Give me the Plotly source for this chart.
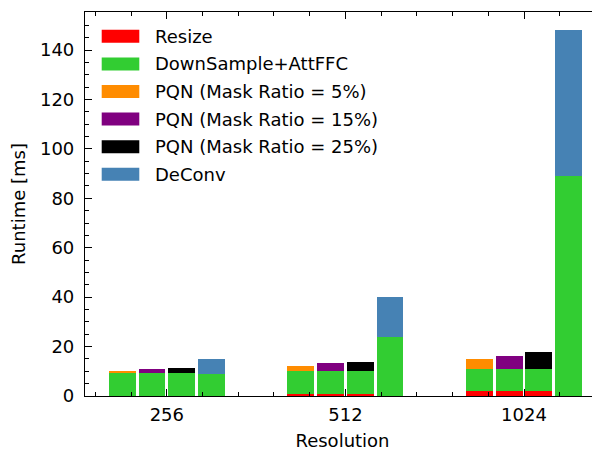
import plotly.graph_objects as go

# ---- data ----
resolutions = ["256", "512", "1024"]
resize = [0.2, 1.0, 2.0]
downsample_attffc = [9.0, 9.2, 9.0]
pqn_5 = [1.0, 2.0, 4.0]
pqn_15 = [1.6, 3.0, 5.2]
pqn_25 = [2.0, 3.5, 7.0]
deconv_downsample = [9.0, 24.0, 89.0]
deconv = [6.0, 16.0, 59.0]

series_names = ["Resize", "DownSample+AttFFC", "PQN (Mask Ratio = 5%)",
                "PQN (Mask Ratio = 15%)", "PQN (Mask Ratio = 25%)", "DeConv"]
colors = ["#ff0000", "#32cd32", "#ff8c00", "#800080", "#000000", "#4682b4"]

# ---- layout constants ----
bar_w = 0.15
offsets = [-0.25, -1 / 12, 1 / 12, 0.25]
groups = list(range(len(resolutions)))
FONT = "DejaVu Sans"
FS = 18

# page body has an 8px margin; figure drawn 8px smaller
W, H = 592, 443
L, T, B = 77, 4, 55
PW, PH = W - L, H - T - B   # 515 x 384

def pos(k):
    return [g + offsets[k] for g in groups]

x_pqn = pos(0) + pos(1) + pos(2)
x_all = x_pqn + pos(3)

fig = go.Figure()
fig.add_trace(go.Bar(x=x_pqn, y=resize * 3, width=bar_w, marker_color=colors[0],
                     name=series_names[0]))
fig.add_trace(go.Bar(x=x_all, y=downsample_attffc * 3 + deconv_downsample, width=bar_w,
                     marker_color=colors[1], name=series_names[1]))
fig.add_trace(go.Bar(x=pos(0), y=pqn_5, width=bar_w, marker_color=colors[2], name=series_names[2]))
fig.add_trace(go.Bar(x=pos(1), y=pqn_15, width=bar_w, marker_color=colors[3], name=series_names[3]))
fig.add_trace(go.Bar(x=pos(2), y=pqn_25, width=bar_w, marker_color=colors[4], name=series_names[4]))
fig.add_trace(go.Bar(x=pos(3), y=deconv, width=bar_w, marker_color=colors[5], name=series_names[5]))
fig.update_traces(marker_line_width=0, showlegend=False)

ymax = (deconv_downsample[-1] + deconv[-1]) * 1.05

# custom legend (large patches like matplotlib), positions in plot-area pixels
shapes = []
annotations = []
row0 = 24.3
row_h = 27.6
for i, (nm, c) in enumerate(zip(series_names, colors)):
    yc = row0 + i * row_h
    shapes.append(dict(type="rect", xref="paper", yref="paper",
                       x0=16.7 / PW, x1=54.3 / PW,
                       y0=(PH - (yc + 6.5)) / PH, y1=(PH - (yc - 6.5)) / PH,
                       fillcolor=c, line=dict(width=0)))
    annotations.append(dict(text=nm, xref="paper", yref="paper",
                            x=68.3 / PW, y=(PH - yc) / PH,
                            xanchor="left", yanchor="middle", showarrow=False,
                            font=dict(family=FONT, size=FS, color="black")))

fig.update_layout(
    width=W, height=H,
    margin=dict(l=L, r=0, t=T, b=B, autoexpand=False),
    barmode="relative",
    bargap=0,
    plot_bgcolor="white", paper_bgcolor="white",
    font=dict(family=FONT, size=FS, color="black"),
    shapes=shapes, annotations=annotations,
    showlegend=False,
)

minor_x = [round(-0.4 + 0.2 * i, 2) for i in range(15)]
fig.update_xaxes(
    range=[-0.458, -0.458 + PW / 178.6],
    tickmode="array", tickvals=groups, ticktext=resolutions,
    ticks="inside", ticklen=7, tickwidth=1, tickcolor="black",
    showline=True, linecolor="black", linewidth=1.2, mirror="ticks",
    showgrid=False, zeroline=False,
    minor=dict(tickvals=minor_x, ticks="inside", ticklen=3.5, tickwidth=1,
               tickcolor="black", showgrid=False),
    title=dict(text="Resolution", font=dict(family=FONT, size=FS), standoff=11),
    tickfont=dict(family=FONT, size=FS),
    ticklabelstandoff=2,
    automargin=False,
)
fig.update_yaxes(
    range=[0, ymax],
    tickmode="linear", tick0=0, dtick=20,
    ticks="inside", ticklen=7, tickwidth=1, tickcolor="black",
    showline=True, linecolor="black", linewidth=1.2, mirror="ticks",
    showgrid=False, zeroline=False,
    minor=dict(dtick=5, tick0=0, ticks="inside", ticklen=3.5, tickwidth=1,
               tickcolor="black", showgrid=False),
    title=dict(text="Runtime [ms]", font=dict(family=FONT, size=FS), standoff=15),
    tickfont=dict(family=FONT, size=FS),
    ticklabelstandoff=6,
    automargin=False,
)

fig.write_html("out.html")
